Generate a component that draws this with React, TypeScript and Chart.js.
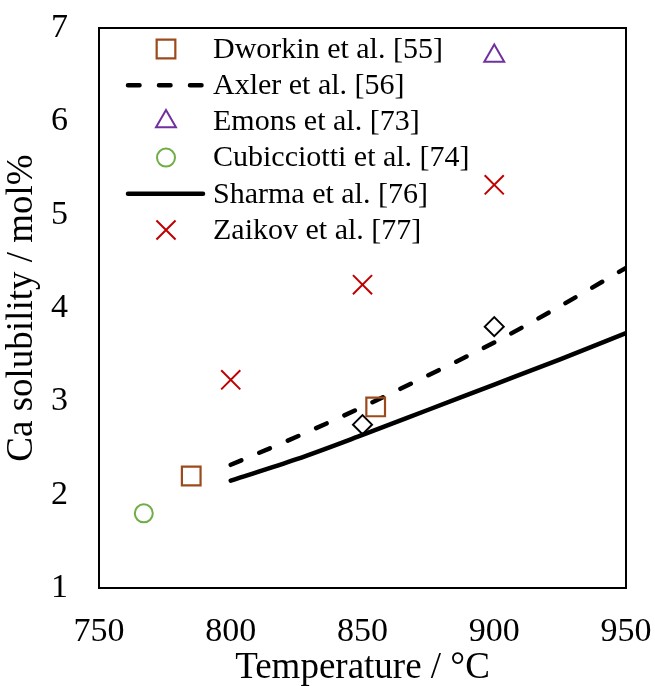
import React, { useEffect, useRef } from 'react';
import { Chart, registerables } from 'chart.js';
import { drawPoint } from 'chart.js/helpers';

Chart.register(...registerables);

// ---- data ----
const xTickValues = [750, 800, 850, 900, 950];
const yTickValues = [1, 2, 3, 4, 5, 6, 7];

const modelTemps = [800, 825, 850, 875, 900, 925, 950];
const axlerValues = [2.32, 2.62, 2.94, 3.28, 3.63, 4.02, 4.43];
const sharmaValues = [2.15, 2.38, 2.64, 2.91, 3.18, 3.45, 3.73];

const dworkinTemps = [785, 855];
const dworkinValues = [2.2, 2.94];
const emonsTemps = [900];
const emonsValues = [6.7];
const cubicciottiTemps = [767];
const cubicciottiValues = [1.8];
const zaikovTemps = [800, 850, 900];
const zaikovValues = [3.23, 4.25, 5.32];
const otherTemps = [850, 900];
const otherValues = [2.75, 3.8];

const legendLabels = [
  'Dworkin et al. [55]',
  'Axler et al. [56]',
  'Emons et al. [73]',
  'Cubicciotti et al. [74]',
  'Sharma et al. [76]',
  'Zaikov et al. [77]',
];

const FONT = '"Liberation Serif", "Times New Roman", Times, serif';

const pts = (xs: number[], ys: number[]) => xs.map((x, i) => ({ x, y: ys[i] }));

const framePlugin = {
  id: 'frame',
  afterDatasetsDraw(chart: any) {
    const { ctx, chartArea } = chart;
    ctx.save();
    ctx.strokeStyle = '#000';
    ctx.lineWidth = 2;
    ctx.strokeRect(chartArea.left, chartArea.top, chartArea.right - chartArea.left, chartArea.bottom - chartArea.top);
    ctx.restore();
  },
};

const legendPlugin = {
  id: 'customLegend',
  afterDraw(chart: any) {
    const { ctx, chartArea } = chart;
    const items = chart.data.datasets.filter((d: any) => d.label);
    ctx.save();
    items.forEach((ds: any, i: number) => {
      const y = chartArea.top + 21 + i * 36.2;
      if (ds.showLine) {
        ctx.beginPath();
        ctx.strokeStyle = ds.borderColor;
        ctx.lineWidth = ds.borderWidth;
        ctx.lineCap = 'round';
        ctx.setLineDash(ds.borderDash || []);
        ctx.moveTo(chartArea.left + 29, y);
        ctx.lineTo(chartArea.left + 104, y);
        ctx.stroke();
        ctx.setLineDash([]);
      } else {
        ctx.strokeStyle = ds.borderColor;
        ctx.fillStyle = 'rgba(0,0,0,0)';
        ctx.lineWidth = ds.borderWidth;
        ctx.lineCap = 'butt';
        drawPoint(ctx, { pointStyle: ds.pointStyle, radius: ds.pointRadius, rotation: 0, borderWidth: ds.borderWidth }, chartArea.left + 67, y);
      }
      ctx.fillStyle = '#000';
      ctx.font = `30px ${FONT}`;
      ctx.textAlign = 'left';
      ctx.textBaseline = 'middle';
      ctx.fillText(ds.label, chartArea.left + 114, y + 1);
    });
    ctx.restore();
  },
};

const zeroPadding = (scale: any) => {
  scale.paddingTop = 0;
  scale.paddingBottom = 0;
  scale.paddingLeft = 0;
  scale.paddingRight = 0;
};

export default function App() {
  const canvasRef = useRef<HTMLCanvasElement | null>(null);

  useEffect(() => {
    if (!canvasRef.current) return;
    Chart.defaults.font.family = FONT;
    Chart.defaults.color = '#000';

    const marker = (label: string, xs: number[], ys: number[], style: string, radius: number, color: string, width = 2) => ({
      label,
      data: pts(xs, ys),
      showLine: false,
      pointStyle: style,
      pointRadius: radius,
      pointHoverRadius: radius,
      pointBorderColor: color,
      pointBackgroundColor: 'rgba(0,0,0,0)',
      pointBorderWidth: width,
      borderColor: color,
      borderWidth: width,
      backgroundColor: 'rgba(0,0,0,0)',
    });

    const line = (label: string, ys: number[], dash: number[]) => ({
      label,
      data: pts(modelTemps, ys),
      showLine: true,
      pointRadius: 0,
      borderColor: '#000',
      borderWidth: 4.5,
      borderDash: dash,
      borderCapStyle: 'round',
      cubicInterpolationMode: 'monotone',
      fill: false,
    });

    const chart = new Chart(canvasRef.current, {
      type: 'scatter',
      data: {
        datasets: [
          marker(legendLabels[0], dworkinTemps, dworkinValues, 'rect', 13.2, '#9C4A1C', 2.2),
          line(legendLabels[1], axlerValues, [11.5, 19.5]),
          marker(legendLabels[2], emonsTemps, emonsValues, 'triangle', 11.5, '#7030A0', 2),
          marker(legendLabels[3], cubicciottiTemps, cubicciottiValues, 'circle', 9, '#70AD47', 2),
          line(legendLabels[4], sharmaValues, []),
          marker(legendLabels[5], zaikovTemps, zaikovValues, 'crossRot', 13.5, '#C00000', 2),
          marker('', otherTemps, otherValues, 'rectRot', 9.5, '#000', 2),
        ] as any,
      },
      options: {
        animation: false,
        responsive: true,
        maintainAspectRatio: false,
        layout: { padding: { top: 28, right: 29, left: 0, bottom: 0 } },
        plugins: {
          legend: { display: false },
          tooltip: { enabled: false },
        },
        scales: {
          x: {
            type: 'linear',
            min: 750,
            max: 950,
            afterBuildTicks: (scale: any) => {
              scale.ticks = xTickValues.map((v) => ({ value: v }));
            },
            afterFit: (scale: any) => {
              scale.height = 98;
              zeroPadding(scale);
            },
            grid: { display: false, drawTicks: false },
            border: { display: false },
            ticks: { font: { size: 34 }, padding: 24, color: '#000', maxRotation: 0 },
            title: { display: true, text: 'Temperature / °C', font: { size: 37 }, padding: { top: 0, bottom: -4 }, color: '#000' },
          },
          y: {
            type: 'linear',
            min: 1,
            max: 7,
            afterBuildTicks: (scale: any) => {
              scale.ticks = yTickValues.map((v) => ({ value: v }));
            },
            afterFit: (scale: any) => {
              scale.width = 99;
              zeroPadding(scale);
            },
            grid: { display: false, drawTicks: false },
            border: { display: false },
            ticks: { font: { size: 34 }, padding: 31, color: '#000' },
            title: { display: true, text: 'Ca solubility / mol%', font: { size: 37 }, padding: { top: 0, bottom: 0 }, color: '#000' },
          },
        },
      } as any,
      plugins: [framePlugin, legendPlugin],
    });

    return () => chart.destroy();
  }, []);

  return (
    <div style={{ position: 'fixed', left: 0, top: 0, width: 655, height: 686, background: '#fff' }}>
      <canvas ref={canvasRef} />
    </div>
  );
}
